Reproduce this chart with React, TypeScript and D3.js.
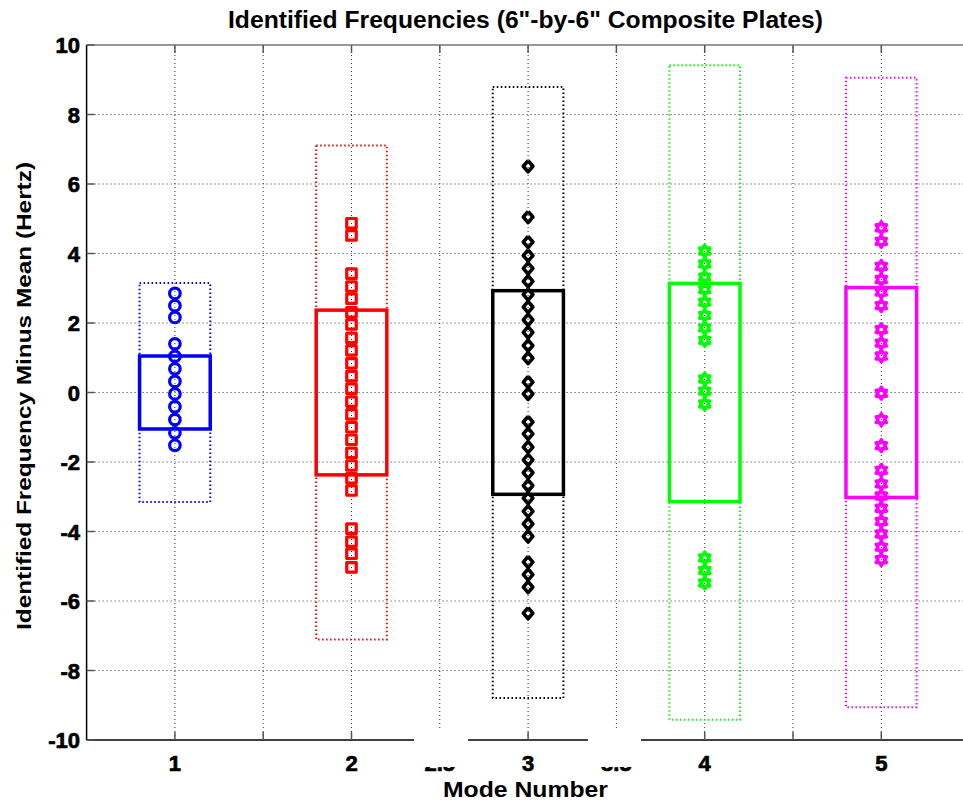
import * as React from "react";
import * as d3 from "d3";

// identified frequency minus mean (Hz), one list per mode
const mode1 = [2.85, 2.5, 2.16, 1.4, 1.04, 0.68, 0.32, -0.04, -0.41, -0.78, -1.16, -1.52];
const mode2 = [
  4.87, 4.52, 3.42, 3.05, 2.7, 2.31, 1.96, 1.57, 1.21, 0.84, 0.47, 0.11, -0.26, -0.63,
  -1.0, -1.36, -1.74, -2.1, -2.47, -2.82, -3.92, -4.29, -4.64, -5.03,
];
const mode3 = [
  6.51, 5.05, 4.33, 3.94, 3.57, 3.2, 2.82, 2.46, 2.09, 1.73, 1.35, 0.99, 0.3, -0.04,
  -0.85, -1.19, -1.57, -1.94, -2.31, -2.68, -3.04, -3.42, -3.78, -4.14, -4.88, -5.24,
  -5.6, -6.35,
];
const mode4 = [4.07, 3.7, 3.32, 2.96, 2.6, 2.22, 1.86, 1.5, 0.39, 0.04, -0.33, -4.76, -5.12, -5.48];
const mode5 = [
  4.74, 4.35, 3.63, 3.25, 2.89, 2.5, 1.81, 1.42, 1.05, -0.02, -0.78, -1.53, -2.24, -2.63,
  -2.98, -3.33, -3.71, -4.07, -4.45, -4.81,
];

const modes = [1, 2, 3, 4, 5];
const modeValues = [mode1, mode2, mode3, mode4, mode5];
// standard deviation of each mode (solid box = 1 sigma, dotted box = 3 sigma)
const sigmas = [1.05, 2.37, 2.93, 3.14, 3.02];
const colors = ["#0000ff", "#ff0000", "#000000", "#00ff00", "#ff00ff"];
const markers = ["circle", "square", "diamond", "hexagram", "hexagram"];

const xTicks = [1, 1.5, 2, 2.5, 3, 3.5, 4, 4.5, 5];
const xTickLabels = ["1", "", "2", "2.5", "3", "3.5", "4", "", "5"];
const yTicks = [-10, -8, -6, -4, -2, 0, 2, 4, 6, 8, 10];

const W = 963;
const H = 801;
const BOX_HALF = 0.2;
const FONT = "'Liberation Sans', Arial, sans-serif";

function markerPath(kind: string): string {
  if (kind === "circle") return d3.symbol(d3.symbolCircle, Math.PI * 5.3 * 5.3)()!;
  if (kind === "square") return d3.symbol(d3.symbolSquare, 9.5 * 9.5)()!;
  if (kind === "diamond") {
    const pts: [number, number][] = [0, 1, 2, 3].map((i) => [
      Math.sin((i * Math.PI) / 2) * 4.8,
      -Math.cos((i * Math.PI) / 2) * 5.6,
    ]);
    return d3.line()(pts.concat([pts[0]]))!;
  }
  // six pointed star
  const radial = d3
    .lineRadial<number>()
    .angle((d) => (d * Math.PI) / 6)
    .radius((d) => (d % 2 === 0 ? 5.8 : 3.4))
    .curve(d3.curveLinearClosed);
  return radial(d3.range(12))!;
}

export default function App() {
  const x = d3.scaleLinear().domain([0.5, 5.5]).range([86.6, 969.6]);
  const y = d3.scaleLinear().domain([-10, 10]).range([740, 45]);
  const [x0, x1] = x.range();
  const [yb, yt] = y.range();

  return (
    <svg
      width={W}
      height={H}
      style={{ position: "absolute", left: 0, top: 0, background: "#fff" }}
    >
      <rect width={W} height={H} fill="#fff" />
      {/* grid */}
      <g stroke="#000" strokeWidth={1} strokeDasharray="1,3" opacity={0.8}>
        {xTicks.map((t) => (
          <line key={"gx" + t} x1={x(t)} x2={x(t)} y1={yb} y2={yt} />
        ))}
        {yTicks.slice(1, -1).map((t) => (
          <line key={"gy" + t} x1={x0} x2={x1} y1={y(t)} y2={y(t)} />
        ))}
      </g>
      {/* axes box */}
      <g stroke="#000" strokeWidth={1.5} fill="none">
        <line x1={x0} x2={x1} y1={yb} y2={yb} />
        <line x1={x0} x2={x1} y1={yt} y2={yt} stroke="#777" />
        <line x1={x0} x2={x0} y1={yb} y2={yt} />
        {xTicks.map((t) => (
          <g key={"tx" + t} stroke="#555">
            <line x1={x(t)} x2={x(t)} y1={yb} y2={yb - 8} />
            <line x1={x(t)} x2={x(t)} y1={yt} y2={yt + 8} />
          </g>
        ))}
        {yTicks.map((t) => (
          <line key={"ty" + t} x1={x0} x2={x0 + 8} y1={y(t)} y2={y(t)} stroke="#555" />
        ))}
      </g>
      {/* boxes and markers */}
      {modes.map((m, i) => {
        const s = sigmas[i];
        const c = colors[i];
        const path = markerPath(markers[i]);
        return (
          <g key={"mode" + m}>
            <rect
              x={x(m - BOX_HALF)}
              y={y(3 * s)}
              width={x(m + BOX_HALF) - x(m - BOX_HALF)}
              height={y(-3 * s) - y(3 * s)}
              fill="none"
              stroke={c}
              strokeWidth={2}
              strokeDasharray="1.5,2.5"
            />
            <rect
              x={x(m - BOX_HALF)}
              y={y(s)}
              width={x(m + BOX_HALF) - x(m - BOX_HALF)}
              height={y(-s) - y(s)}
              fill="none"
              stroke={c}
              strokeWidth={3.5}
            />
            {modeValues[i].map((v, j) => (
              <path
                key={j}
                d={path}
                transform={`translate(${x(m)},${y(v)})`}
                fill="none"
                stroke={c}
                strokeWidth={m >= 3 ? 3.6 : 3.2}
                strokeLinejoin="round"
              />
            ))}
          </g>
        );
      })}
      {/* tick labels */}
      <g
        fontFamily={FONT}
        fontWeight="bold"
        fontSize={22}
        fill="#000"
        stroke="#000"
        strokeWidth={0.7}
      >
        {yTicks.map((t) => (
          <text key={"ly" + t} x={80} y={y(t) + 8} textAnchor="end">
            {t}
          </text>
        ))}
        {xTicks.map((t, i) => (
          <text key={"lx" + t} x={x(t)} y={771} textAnchor="middle">
            {xTickLabels[i]}
          </text>
        ))}
      </g>
      {/* white patches over the half-step labels */}
      <rect x={414} y={728} width={54} height={39} fill="#fff" />
      <rect x={588} y={730} width={53} height={37} fill="#fff" />
      {/* titles */}
      <text
        x={525.5}
        y={28}
        textAnchor="middle"
        fontFamily={FONT}
        fontWeight="bold"
        fontSize={23}
        textLength={595}
        lengthAdjust="spacingAndGlyphs"
      >
        Identified Frequencies (6"-by-6" Composite Plates)
      </text>
      <text
        x={525.5}
        y={797}
        textAnchor="middle"
        fontFamily={FONT}
        fontWeight="bold"
        fontSize={22}
        textLength={165}
        lengthAdjust="spacingAndGlyphs"
      >
        Mode Number
      </text>
      <text
        transform={`translate(31,${396}) rotate(-90)`}
        textAnchor="middle"
        fontFamily={FONT}
        fontWeight="bold"
        fontSize={21}
        textLength={468}
        lengthAdjust="spacingAndGlyphs"
      >
        Identified Frequency Minus Mean (Hertz)
      </text>
    </svg>
  );
}
